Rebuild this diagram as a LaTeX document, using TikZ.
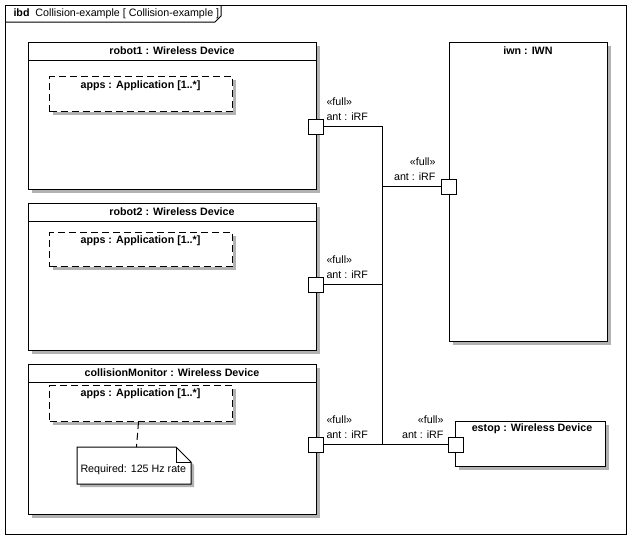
\documentclass[tikz,border=0pt]{standalone}
\usepackage{fontspec}
\setmainfont{Liberation Sans}
\usetikzlibrary{shadows}
\begin{document}
\begin{tikzpicture}[x=1pt,y=-1pt,line width=1pt,
  every node/.style={font=\fontsize{10.7}{12.8}\selectfont, inner sep=0pt},
  part/.style={draw, fill=white, anchor=north west,
    general shadow={fill=black!30, shadow xshift=3pt, shadow yshift=-3pt}},
  apppart/.style={part, dash pattern=on 7pt off 4pt},
  port/.style={draw, fill=white, minimum size=15pt},
  hdr/.style={font=\fontsize{10.7}{12.8}\selectfont\bfseries},
  lbl/.style={anchor=west},
  lblr/.style={anchor=east}]
\useasboundingbox (0,0) rectangle (632,539);

% diagram frame with its name tab
\node[draw, anchor=north west, minimum width=621pt, minimum height=529pt] (frame) at (5,5) {};
\draw (5,22) -- (215,22) -- (221,16) -- (221,5);
\node[anchor=west] (title) at (13,13.5) {\textbf{ibd}\ \ Collision-example [ Collision-example ]};

% robot1
\node[part, minimum width=288pt, minimum height=147pt] (r1) at (28,42) {};
\draw ([yshift=-18pt]r1.north west) -- ([yshift=-18pt]r1.north east);
\node[hdr] (r1t) at (172,51) {robot1 : Wireless Device};
\node[apppart, minimum width=183pt, minimum height=35pt] (a1) at (49,76) {};
\node[hdr] (a1t) at (140.5,86) {apps : Application [1..*]};

% robot2
\node[part, minimum width=288pt, minimum height=147pt] (r2) at (28,203) {};
\draw ([yshift=-18pt]r2.north west) -- ([yshift=-18pt]r2.north east);
\node[hdr] (r2t) at (172,212) {robot2 : Wireless Device};
\node[apppart, minimum width=183pt, minimum height=34pt] (a2) at (49,232) {};
\node[hdr] (a2t) at (140.5,241) {apps : Application [1..*]};

% collisionMonitor
\node[part, minimum width=288pt, minimum height=150pt] (cm) at (28,364) {};
\draw ([yshift=-18pt]cm.north west) -- ([yshift=-18pt]cm.north east);
\node[hdr] (cmt) at (172,373) {collisionMonitor : Wireless Device};
\node[apppart, minimum width=183pt, minimum height=36pt] (a3) at (49,385) {};
\node[hdr] (a3t) at (140.5,394) {apps : Application [1..*]};

% comment note attached to the application part
\node[anchor=north west, minimum width=113pt, minimum height=36pt] (note) at (77,447) {};
\fill[black!30] ([shift={(3pt,-3pt)}]note.north west) -- ([shift={(-12pt,-3pt)}]note.north east)
  -- ([shift={(3pt,-18pt)}]note.north east) -- ([shift={(3pt,-3pt)}]note.south east)
  -- ([shift={(3pt,-3pt)}]note.south west) -- cycle;
\draw[fill=white] (note.north west) -- ([xshift=-15pt]note.north east) -- ([yshift=-15pt]note.north east)
  -- (note.south east) -- (note.south west) -- cycle;
\draw ([xshift=-15pt]note.north east) -- ([xshift=-15pt,yshift=-15pt]note.north east) -- ([yshift=-15pt]note.north east);
\node[anchor=west] (notet) at (80,470) {Required: 125 Hz rate};
\draw[dash pattern=on 7pt off 4pt] ([xshift=-2.5pt]a3.south) -- ([xshift=2.5pt]note.north);

% iwn
\node[part, minimum width=158pt, minimum height=299pt] (iwn) at (449,42) {};
\node[hdr] (iwnt) at (528,51) {iwn : IWN};

% estop
\node[part, minimum width=150pt, minimum height=45pt] (es) at (455,421) {};
\node[hdr] (est) at (532,429) {estop : Wireless Device};

% connector trunk
\coordinate (tTop) at (382,126.5);
\coordinate (tBot) at (382,444.5);
\node[port] (p1) at (316,126.5) {};
\node[port] (p2) at (316,284.5) {};
\node[port] (p3) at (316,444.5) {};
\node[port] (pi) at (449,186.5) {};
\node[port] (pe) at (455.5,444.5) {};
\draw (p1.center) -- (tTop) -- (tBot);
\draw (p2.center) -- (p2.center -| tTop);
\draw (p3.center) -- (pe.center);
\draw (pi.center) -- (pi.center -| tTop);
\node[port] at (p1) {};
\node[port] at (p2) {};
\node[port] at (p3) {};
\node[port] at (pi) {};
\node[port] at (pe) {};

% port labels
\node[lbl] (s1) at (326,102) {«full»};
\node[lbl] (n1) at (326,117) {ant : iRF};
\node[lbl] (s2) at (326,260) {«full»};
\node[lbl] (n2) at (326,275) {ant : iRF};
\node[lbl] (s3) at (326,420) {«full»};
\node[lbl] (n3) at (326,435) {ant : iRF};
\node[lblr] (si) at (436,162) {«full»};
\node[lblr] (ni) at (436,177) {ant : iRF};
\node[lblr] (se) at (444,420) {«full»};
\node[lblr] (ne) at (444,435) {ant : iRF};
\end{tikzpicture}
\end{document}
